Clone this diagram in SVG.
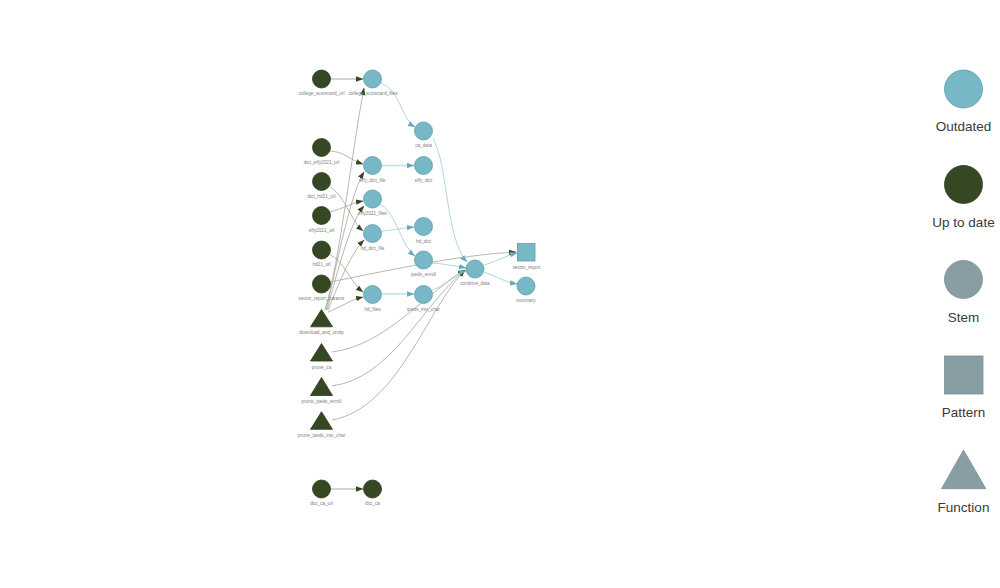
<svg xmlns="http://www.w3.org/2000/svg" width="1000" height="588" viewBox="0 0 1000 588">
<style>
.lbl{font-family:"Liberation Sans",Arial,sans-serif;font-size:4.7px;fill:#808080;text-anchor:middle}
.leg{font-family:"Liberation Sans",Arial,sans-serif;font-size:13.5px;fill:#3a3a3a;text-anchor:middle}
.up{fill:#354823;stroke:#2b3a1c;stroke-width:0.8}
.out{fill:#78B7C5;stroke:#5a9dae;stroke-width:0.8}
.stem{fill:#899DA4;stroke:#7a8e95;stroke-width:0.8}
.eg{fill:none;stroke:#a3a798;stroke-width:0.8}
.egs{fill:none;stroke:#c9cbc2;stroke-width:1.6}
.eb{fill:none;stroke:#a6d0da;stroke-width:0.9}
.ebs{fill:none;stroke:#c3e0e7;stroke-width:1.6}
</style>
<defs>
<marker id="ag" markerUnits="userSpaceOnUse" markerWidth="8" markerHeight="6" refX="7" refY="3" orient="auto"><path d="M0,0.3 L7.5,3 L0,5.7 z" fill="#354823"/></marker>
<marker id="ab" markerUnits="userSpaceOnUse" markerWidth="8" markerHeight="6" refX="7" refY="3" orient="auto"><path d="M0,0.3 L7.5,3 L0,5.7 z" fill="#6aaabb"/></marker>
</defs>
<rect width="1000" height="588" fill="#fff"/>
<g id="edges">
<path class="egs" d="M331,79 L363,79" marker-end="url(#ag)"/>
<path class="egs" d="M331,489 L363,489" marker-end="url(#ag)"/>
<path class="eg" d="M330,151 C345,152 350,160 363,164" marker-end="url(#ag)"/>
<path class="eg" d="M329,186 C345,195 350,220 363,231" marker-end="url(#ag)"/>
<path class="eg" d="M330,212 C345,208 350,203 363,201" marker-end="url(#ag)"/>
<path class="eg" d="M329,254 C345,262 350,282 363,292" marker-end="url(#ag)"/>
<path class="eg" d="M328,312 C345,305 350,300 363,297" marker-end="url(#ag)"/>
<path class="eg" d="M325,310 C340,260 352,150 364,88" marker-end="url(#ag)"/>
<path class="eg" d="M326,310 C338,260 350,195 364,172" marker-end="url(#ag)"/>
<path class="eg" d="M327,310 C338,270 350,222 364,206" marker-end="url(#ag)"/>
<path class="eg" d="M328,310 C340,280 352,252 364,240" marker-end="url(#ag)"/>
<path class="eg" d="M330,282 C400,268 460,255 516,252" marker-end="url(#ag)"/>
<path class="eg" d="M332,352 C385,345 420,298 465,270" marker-end="url(#ag)"/>
<path class="eg" d="M332,386 C392,378 422,305 465,270" marker-end="url(#ag)"/>
<path class="eg" d="M332,420 C398,408 426,310 465,270" marker-end="url(#ag)"/>
<path class="eb" d="M381,83 C400,90 402,120 415,127" marker-end="url(#ab)"/>
<path class="eb" d="M433,138 C448,165 446,240 467,262" marker-end="url(#ab)"/>
<path class="ebs" d="M382,165.5 L414,165.5" marker-end="url(#ab)"/>
<path class="eb" d="M380,204 C398,215 400,245 415,256" marker-end="url(#ab)"/>
<path class="eb" d="M382,231 C395,230 402,228 414,227" marker-end="url(#ab)"/>
<path class="ebs" d="M382,294 L414,294" marker-end="url(#ab)"/>
<path class="eb" d="M432,263 C445,264 455,266 466,268" marker-end="url(#ab)"/>
<path class="eb" d="M432,290 C448,285 452,274 466,271" marker-end="url(#ab)"/>
<path class="eb" d="M484,265 C495,262 505,256 517,253" marker-end="url(#ab)"/>
<path class="eb" d="M484,272 C495,276 505,282 517,284" marker-end="url(#ab)"/>
</g>
<g id="college_scorecard_url"><circle class="up" cx="321.5" cy="79" r="9"/><text class="lbl" x="321.5" y="95">college_scorecard_url</text></g>
<g id="college_scorecard_files"><circle class="out" cx="372.5" cy="79" r="9"/><text class="lbl" x="373" y="95">college_scorecard_files</text></g>
<g id="ca_data"><circle class="out" cx="423.5" cy="131" r="9"/><text class="lbl" x="423.5" y="147">ca_data</text></g>
<g id="dict_effy2021_url"><circle class="up" cx="321.5" cy="147.5" r="9"/><text class="lbl" x="321.5" y="163.5">dict_effy2021_url</text></g>
<g id="effy_dict_file"><circle class="out" cx="372.5" cy="165.5" r="9"/><text class="lbl" x="372.5" y="181.5">effy_dict_file</text></g>
<g id="effy_dict"><circle class="out" cx="423.5" cy="165.5" r="9"/><text class="lbl" x="423.5" y="181.5">effy_dict</text></g>
<g id="dict_hd21_url"><circle class="up" cx="321.5" cy="181.5" r="9"/><text class="lbl" x="321.5" y="197.5">dict_hd21_url</text></g>
<g id="effy2021_files"><circle class="out" cx="372.5" cy="199" r="9"/><text class="lbl" x="372.5" y="215">effy2021_files</text></g>
<g id="effy2021_url"><circle class="up" cx="321.5" cy="215.5" r="9"/><text class="lbl" x="321.5" y="231.5">effy2021_url</text></g>
<g id="hd_dict_file"><circle class="out" cx="372.5" cy="233.5" r="9"/><text class="lbl" x="372.5" y="249.5">hd_dict_file</text></g>
<g id="hd_dict"><circle class="out" cx="423.5" cy="226.5" r="9"/><text class="lbl" x="423.5" y="242.5">hd_dict</text></g>
<g id="hd21_url"><circle class="up" cx="321.5" cy="250" r="9"/><text class="lbl" x="321.5" y="266">hd21_url</text></g>
<g id="ipeds_enroll"><circle class="out" cx="423.5" cy="260" r="9"/><text class="lbl" x="423.5" y="276">ipeds_enroll</text></g>
<g id="combine_data"><circle class="out" cx="475" cy="269" r="9"/><text class="lbl" x="475" y="285">combine_data</text></g>
<g id="sector_report"><rect class="out" x="517.5" y="243.5" width="17.5" height="17.5"/><text class="lbl" x="526.5" y="268.5">sector_report</text></g>
<g id="summary"><circle class="out" cx="526" cy="286" r="9"/><text class="lbl" x="526" y="302">summary</text></g>
<g id="sector_report_params"><circle class="up" cx="321.5" cy="284" r="9"/><text class="lbl" x="321.5" y="300">sector_report_params</text></g>
<g id="hd_files"><circle class="out" cx="372.5" cy="294.5" r="9"/><text class="lbl" x="372.5" y="310.5">hd_files</text></g>
<g id="ipeds_inst_char"><circle class="out" cx="423.5" cy="294.5" r="9"/><text class="lbl" x="423.5" y="310.5">ipeds_inst_char</text></g>
<g id="download_and_unzip"><polygon class="up" points="321.5,309.5 332.5,326.8 310.5,326.8"/><text class="lbl" x="321.5" y="334">download_and_unzip</text></g>
<g id="prune_ca"><polygon class="up" points="321.5,343.5 332.5,361 310.5,361"/><text class="lbl" x="321.5" y="368.5">prune_ca</text></g>
<g id="prune_ipeds_enroll"><polygon class="up" points="321.5,377.5 332.5,395.5 310.5,395.5"/><text class="lbl" x="321.5" y="402.7">prune_ipeds_enroll</text></g>
<g id="prune_ipeds_inst_char"><polygon class="up" points="321.5,411.7 332.5,429.3 310.5,429.3"/><text class="lbl" x="321.5" y="436.7">prune_ipeds_inst_char</text></g>
<g id="dict_ca_url"><circle class="up" cx="321.5" cy="489" r="9"/><text class="lbl" x="321.5" y="505">dict_ca_url</text></g>
<g id="dict_ca"><circle class="up" cx="372.5" cy="489" r="9"/><text class="lbl" x="372.5" y="505">dict_ca</text></g>
<g id="legend">
<circle class="out" cx="963.5" cy="89" r="19"/><text class="leg" x="963.5" y="131">Outdated</text>
<circle class="up" cx="963.5" cy="184.5" r="19"/><text class="leg" x="963.5" y="226.5">Up to date</text>
<circle class="stem" cx="963.5" cy="279.5" r="19"/><text class="leg" x="963.5" y="321.5">Stem</text>
<rect class="stem" x="944.5" y="356" width="38.5" height="38"/><text class="leg" x="963.5" y="416.5">Pattern</text>
<polygon class="stem" points="963.5,450 985.8,488.7 941.5,488.7"/><text class="leg" x="963.5" y="511.7">Function</text>
</g>
</svg>
